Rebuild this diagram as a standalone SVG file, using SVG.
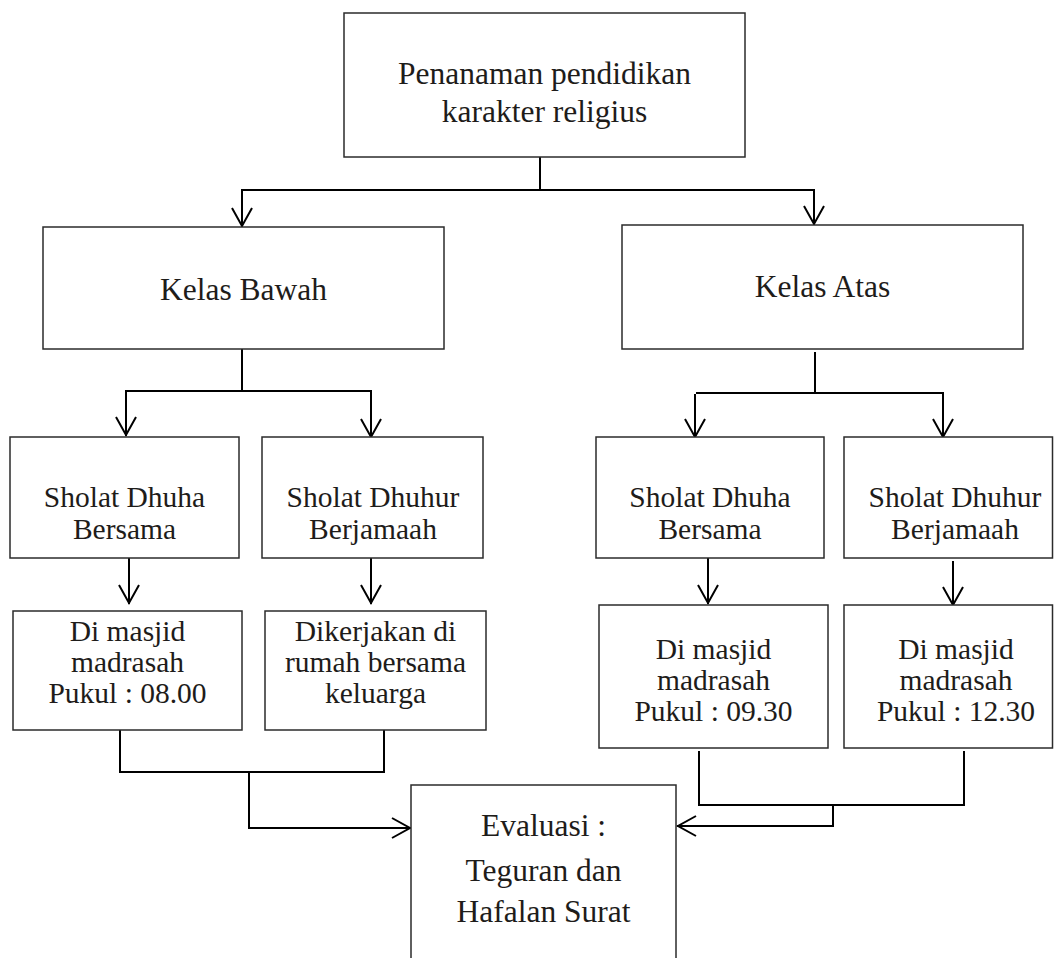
<svg xmlns="http://www.w3.org/2000/svg" width="1054" height="958" viewBox="0 0 1054 958">
  <style>
    .box { fill: #ffffff; stroke: #2b2b2b; stroke-width: 1.5; }
    .wire { fill: none; stroke: #000000; stroke-width: 2; stroke-linecap: square; }
    .head { fill: none; stroke: #000000; stroke-width: 2; stroke-linejoin: miter; }
    .lg { font-family: "Liberation Serif", "Times New Roman", serif; font-size: 31.5px; fill: #1e1c1a; text-anchor: middle; }
    .sm { font-family: "Liberation Serif", "Times New Roman", serif; font-size: 29.5px; fill: #1e1c1a; text-anchor: middle; }
  </style>
  <rect width="1054" height="958" fill="#ffffff"/>

  <!-- connectors -->
  <g id="connectors">
    <!-- root split -->
    <path class="wire" d="M540 157 V190 M242 190 H814 M242 190 V226 M814 190 V224"/>
    <path class="head" d="M232 208 L242 226 L252 208 M804 206 L814 224 L824 206"/>
    <!-- Kelas Bawah split -->
    <path class="wire" d="M242 349 V391 M126 391 H371 M126 391 V435 M371 391 V437"/>
    <path class="head" d="M116 417 L126 435 L136 417 M361 419 L371 437 L381 419"/>
    <!-- Kelas Atas split -->
    <path class="wire" d="M815 353 V393 M697 393 H943 M695 395 V437 M943 393 V437"/>
    <path class="head" d="M685 419 L695 437 L705 419 M933 419 L943 437 L953 419"/>
    <!-- activity to detail -->
    <path class="wire" d="M129 558 V603 M371 558 V603 M708 558 V603 M953 562 V605"/>
    <path class="head" d="M119 585 L129 603 L139 585 M361 585 L371 603 L381 585 M698 585 L708 603 L718 585 M943 587 L953 605 L963 587"/>
    <!-- left group to evaluation -->
    <path class="wire" d="M120 731 V772 H384 V731 M249 772 V828 H410"/>
    <path class="head" d="M392 818 L410 828 L392 838"/>
    <!-- right group to evaluation -->
    <path class="wire" d="M699 752 V805 H964 V752 M833 805 V826 H678"/>
    <path class="head" d="M696 816 L678 826 L696 836"/>
  </g>

  <g id="root">
    <rect class="box" x="344" y="13" width="401" height="144"/>
    <text class="lg" x="544.5" y="83.5">Penanaman pendidikan</text>
    <text class="lg" x="544.5" y="122">karakter religius</text>
  </g>

  <g id="kelas-bawah">
    <rect class="box" x="43" y="227" width="401" height="122"/>
    <text class="lg" x="243.5" y="300">Kelas Bawah</text>
  </g>

  <g id="kelas-atas">
    <rect class="box" x="622" y="225" width="401" height="124"/>
    <text class="lg" x="822.5" y="297">Kelas Atas</text>
  </g>

  <g id="bawah-dhuha">
    <rect class="box" x="10" y="437" width="229" height="121"/>
    <text class="sm" x="124.5" y="506.5">Sholat Dhuha</text>
    <text class="sm" x="124.5" y="538.5">Bersama</text>
  </g>

  <g id="bawah-dhuhur">
    <rect class="box" x="262" y="437" width="221" height="121"/>
    <text class="sm" x="373" y="506.5">Sholat Dhuhur</text>
    <text class="sm" x="373" y="538.5">Berjamaah</text>
  </g>

  <g id="atas-dhuha">
    <rect class="box" x="596" y="437" width="228" height="121"/>
    <text class="sm" x="710" y="506.5">Sholat Dhuha</text>
    <text class="sm" x="710" y="538.5">Bersama</text>
  </g>

  <g id="atas-dhuhur">
    <rect class="box" x="844" y="437" width="208.5" height="121"/>
    <text class="sm" x="955" y="506.5">Sholat Dhuhur</text>
    <text class="sm" x="955" y="538.5">Berjamaah</text>
  </g>

  <g id="bawah-dhuha-detail">
    <rect class="box" x="13" y="611" width="229" height="119"/>
    <text class="sm" x="127.5" y="641">Di masjid</text>
    <text class="sm" x="127.5" y="672">madrasah</text>
    <text class="sm" x="127.5" y="703">Pukul : 08.00</text>
  </g>

  <g id="bawah-dhuhur-detail">
    <rect class="box" x="265" y="611" width="221" height="119"/>
    <text class="sm" x="375.5" y="641">Dikerjakan di</text>
    <text class="sm" x="375.5" y="672">rumah bersama</text>
    <text class="sm" x="375.5" y="703">keluarga</text>
  </g>

  <g id="atas-dhuha-detail">
    <rect class="box" x="599" y="605" width="229" height="143"/>
    <text class="sm" x="713.5" y="659">Di masjid</text>
    <text class="sm" x="713.5" y="690">madrasah</text>
    <text class="sm" x="713.5" y="721">Pukul : 09.30</text>
  </g>

  <g id="atas-dhuhur-detail">
    <rect class="box" x="844" y="605" width="208.5" height="143"/>
    <text class="sm" x="956" y="659">Di masjid</text>
    <text class="sm" x="956" y="690">madrasah</text>
    <text class="sm" x="956" y="721">Pukul : 12.30</text>
  </g>

  <g id="evaluasi">
    <rect class="box" x="411" y="785" width="265" height="190"/>
    <text class="lg" x="543.5" y="836">Evaluasi :</text>
    <text class="lg" x="543.5" y="881">Teguran dan</text>
    <text class="lg" x="543.5" y="922">Hafalan Surat</text>
  </g>
</svg>
